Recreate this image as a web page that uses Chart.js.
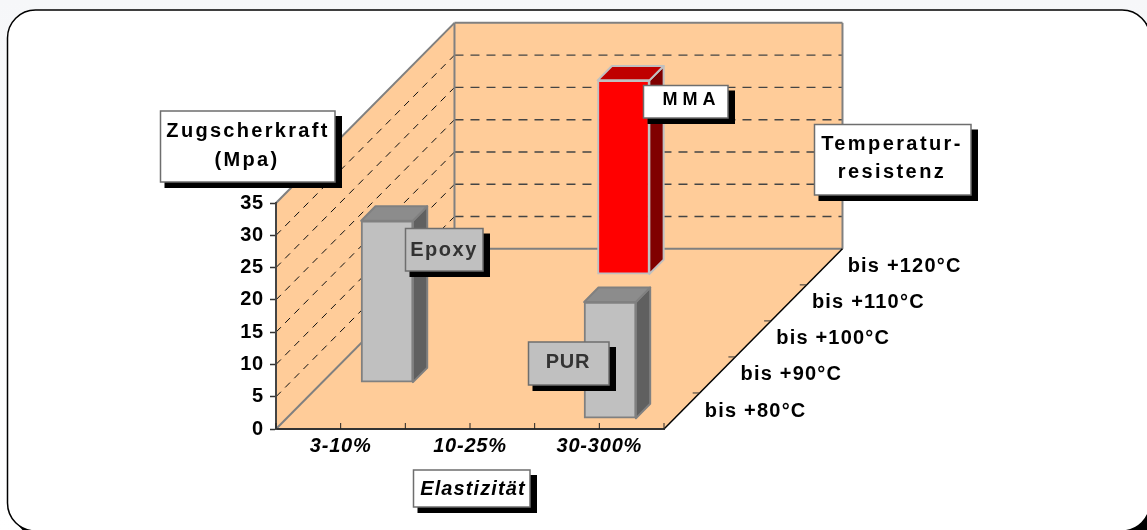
<!DOCTYPE html>
<html><head><meta charset="utf-8">
<style>html,body{margin:0;padding:0;background:#fff;overflow:hidden}canvas{display:block}</style>
<script src="https://cdn.jsdelivr.net/npm/chart.js@4"></script>
</head><body><canvas id="c" width="1147" height="530"></canvas>
<script>
const categories = ['3-10%','10-25%','30-300%'];
const tempLabels = ['bis +80°C','bis +90°C','bis +100°C','bis +110°C','bis +120°C'];
const materials = ['Epoxy','MMA','PUR'];
const materialCategory = [0,1,2];
const materialDepth = [1,4,0];
const materialValues = [25,30,18];
const faceColors = ['#C0C0C0','#FF0000','#C0C0C0'];
const topColors = ['#8C8C8C','#BF0000','#8C8C8C'];
const sideColors = ['#606060','#800000','#606060'];
const edgeColors = ['#808080','#C0C0C0','#808080'];
const yMax = 35, yStep = 5;

// oblique projection: one depth slot moves a point this far along the two scales
const kx = 0.276, ky = 5.58;
const frontGap = 0.3, barDepth = 0.4, halfBar = 0.2;
const SANS = '"Liberation Sans", Arial, sans-serif';

function P(chart,x,d,v){
  return [chart.scales.x.getPixelForValue(x+d*kx), chart.scales.y.getPixelForValue(v+d*ky)];
}
function poly(ctx,pts,fill,stroke,lw){
  ctx.beginPath();
  pts.forEach((p,i)=> i?ctx.lineTo(p[0],p[1]):ctx.moveTo(p[0],p[1]));
  ctx.closePath();
  if(fill){ctx.fillStyle=fill;ctx.fill();}
  if(stroke){ctx.strokeStyle=stroke;ctx.lineWidth=lw;ctx.lineJoin='round';ctx.stroke();}
}
function seg(ctx,a,b,col,lw,dash){
  ctx.save();ctx.beginPath();ctx.setLineDash(dash||[]);ctx.strokeStyle=col;ctx.lineWidth=lw;
  ctx.moveTo(a[0],a[1]);ctx.lineTo(b[0],b[1]);ctx.stroke();ctx.restore();
}
function box(ctx,x0,y0,x1,y1,fill,lines,font,color,spacing,sx,sy){
  ctx.save();
  ctx.fillStyle='#000';ctx.fillRect(x0+4,y0+5,x1-x0+(sx||3),y1-y0+(sy||1));
  ctx.fillStyle=fill;ctx.fillRect(x0,y0,x1-x0,y1-y0);
  ctx.strokeStyle='#6e6e6e';ctx.lineWidth=1.5;ctx.strokeRect(x0,y0,x1-x0,y1-y0);
  ctx.font=font;ctx.fillStyle=color;ctx.textAlign='center';ctx.textBaseline='middle';
  ctx.letterSpacing=spacing+'px';
  lines.forEach(l=>ctx.fillText(l[0],l[1],l[2]));
  ctx.restore();
}

const scene3d = {
  id:'scene3d',
  beforeDraw(chart){
    const ctx=chart.ctx;
    ctx.letterSpacing='0.8px';
    ctx.save();
    const g=ctx.createLinearGradient(0,0,0,530);g.addColorStop(0,'#f6f7f9');g.addColorStop(1,'#ffffff');
    ctx.letterSpacing='0px';
    ctx.fillStyle=g;ctx.fillRect(0,0,1147,530);
    ctx.beginPath();ctx.roundRect(14,17,1143,521,28);ctx.fillStyle='#000';ctx.fill();
    ctx.beginPath();ctx.roundRect(7.5,10,1142.5,521,28);ctx.fillStyle='#fff';ctx.fill();
    ctx.strokeStyle='#000';ctx.lineWidth=1.5;ctx.stroke();
    // walls and floor
    const n=tempLabels.length, xm=categories.length;
    const a=P(chart,0,0,0),b=P(chart,xm,0,0),c=P(chart,xm,n,0),d=P(chart,0,n,0);
    const at=P(chart,0,0,yMax),dt=P(chart,0,n,yMax),ct=P(chart,xm,n,yMax);
    poly(ctx,[a,at,dt,d],'#FFCC99');
    poly(ctx,[d,dt,ct,c],'#FFCC99');
    poly(ctx,[a,b,c,d],'#FFCC99');
    for(let v=yStep;v<yMax;v+=yStep){
      seg(ctx,P(chart,0,0,v),P(chart,0,n,v),'#111',1,[7,6]);
      seg(ctx,P(chart,0,n,v),P(chart,xm,n,v),'#444',1.4,[9,7]);
    }
    seg(ctx,a,d,'#808080',2);
    seg(ctx,d,c,'#808080',2);
    seg(ctx,at,dt,'#808080',2);
    seg(ctx,d,dt,'#808080',2);
    seg(ctx,dt,ct,'#808080',2);
    seg(ctx,ct,c,'#808080',2);
    seg(ctx,b,c,'#000',1.5);
    ctx.restore();
  },
  beforeDatasetsDraw(chart){
    const ctx=chart.ctx;
    ctx.save();
    // inward ticks on the category axis, ticks on the depth edge
    chart.scales.x.ticks.forEach((t,i)=>{
      const p=chart.scales.x.getPixelForTick(i), y=chart.scales.y.bottom;
      seg(ctx,[p,y],[p,y-6],'#222',1);
    });
    const xm=categories.length;
    tempLabels.forEach((t,i)=>{
      if(i>0){const p=P(chart,xm,i,0);seg(ctx,p,[p[0]-7,p[1]],'#333',1);}
    });
    materials.forEach((m,i)=>{
      const cx=materialCategory[i]+0.5, f=materialDepth[i]+frontGap, k=f+barDepth, v=materialValues[i];
      const flT=P(chart,cx-halfBar,f,v),frT=P(chart,cx+halfBar,f,v),frB=P(chart,cx+halfBar,f,0);
      const blT=P(chart,cx-halfBar,k,v),brT=P(chart,cx+halfBar,k,v),brB=P(chart,cx+halfBar,k,0);
      poly(ctx,[frT,brT,brB,frB],sideColors[i],edgeColors[i],2);
      poly(ctx,[flT,frT,brT,blT],topColors[i],edgeColors[i],2);
    });
    ctx.restore();
  },
  afterDraw(chart){
    const ctx=chart.ctx;
    ctx.save();
    // depth axis labels
    ctx.font='bold 20px '+SANS;ctx.fillStyle='#000';ctx.textAlign='left';ctx.textBaseline='middle';
    ctx.letterSpacing='1.2px';
    tempLabels.forEach((t,i)=>{
      const p=P(chart,categories.length,i+0.5,0);
      ctx.fillText(t,p[0]+23,p[1]);
    });
    ctx.restore();
    const B='bold 20px '+SANS;
    box(ctx,160.5,111,335,182,'#fff',[['Zugscherkraft',248,131],['(Mpa)',247,160]],B,'#000',2.3);
    box(ctx,405.5,228.5,483,271,'#C0C0C0',[['Epoxy',444,250]],B,'#333',1.5);
    box(ctx,643.5,85.5,728,118,'#fff',[['M M A',689,100]],'bold 18px '+SANS,'#000',0);
    box(ctx,814.5,124.5,971,195,'#fff',[['Temperatur-',892,144],['resistenz',892,172]],B,'#000',2.4);
    box(ctx,528.5,342,609,385,'#C0C0C0',[['PUR',568,362]],B,'#333',0.8);
    box(ctx,413.5,470,530,507,'#fff',[['Elastizität',473,489]],'italic bold 20px '+SANS,'#000',1.1);
  }
};

new Chart(document.getElementById('c').getContext('2d'),{
  type:'bar',
  plugins:[scene3d],
  data:{
    labels:materials,
    datasets:[{
      label:'Zugscherkraft (Mpa)',
      data:materials.map((m,i)=>{
        const s=(materialDepth[i]+frontGap)*ky;
        return {x:materialCategory[i]+0.5+(materialDepth[i]+frontGap)*kx, y:[s,s+materialValues[i]]};
      }),
      backgroundColor:faceColors,
      borderColor:edgeColors,
      borderWidth:2,
      borderSkipped:false,
      barThickness:52,
      clip:false
    }]
  },
  options:{
    responsive:false,animation:false,
    layout:{padding:{left:200,right:483,top:203,bottom:0}},
    plugins:{legend:{display:false},title:{display:false},tooltip:{enabled:false}},
    scales:{
      x:{
        type:'linear',min:0,max:categories.length,offset:false,
        grid:{display:false,offset:false,drawTicks:false},
        border:{color:'#333',width:2},
        afterBuildTicks(ax){ax.ticks=[];for(let i=0;i<=categories.length*2;i++)ax.ticks.push({value:i/2});},
        ticks:{autoSkip:false,maxRotation:0,padding:5,color:'#000',font:{family:SANS,size:20,weight:'bold',style:'italic'},
          callback(v){const i=v-0.5;return Number.isInteger(i)&&categories[i]?categories[i]:'';}},
        afterFit(ax){ax.height=101;}
      },
      y:{
        min:0,max:yMax,
        grid:{drawOnChartArea:false,color:'#333',tickLength:6,tickWidth:1.5},
        border:{color:'#444',width:2},
        ticks:{stepSize:yStep,padding:6,color:'#000',font:{family:SANS,size:20,weight:'bold'}},
        afterFit(ax){ax.width=76;}
      }
    }
  }
});
</script></body></html>
